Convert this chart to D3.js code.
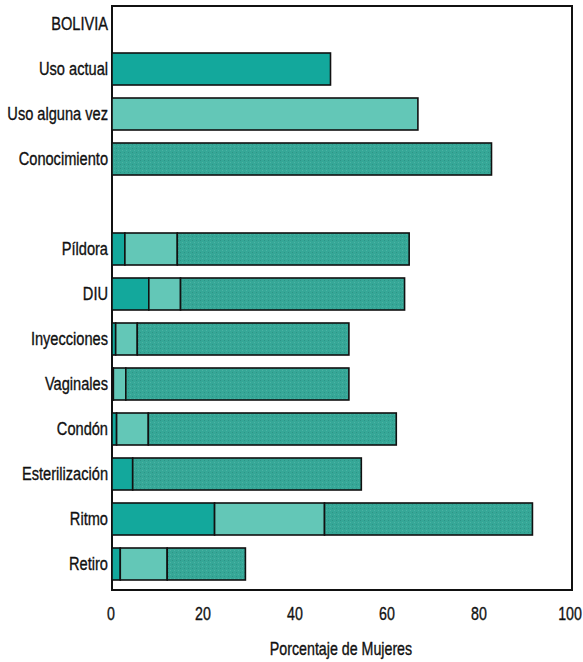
<!DOCTYPE html>
<html><head><meta charset="utf-8">
<script src="https://cdn.jsdelivr.net/npm/d3@7"></script>
<style>
html,body{margin:0;padding:0;background:#fff;}
svg text{font-family:"Liberation Sans",Arial,sans-serif;fill:#111;stroke:#111;stroke-width:0.35;}
</style></head>
<body><svg id="c" width="583" height="662"></svg>
<script>
// Categories (top to bottom); "BOLIVIA" is a heading row, "" is the spacer row
const categories = ["BOLIVIA","Uso actual","Uso alguna vez","Conocimiento","","Píldora","DIU","Inyecciones","Vaginales","Condón","Esterilización","Ritmo","Retiro"];
// Summary bars (single value)
const summaryNames = ["Uso actual","Uso alguna vez","Conocimiento"];
const summaryValues = [47.5, 66.5, 82.5];
const summaryKinds = ["actual","alguna","conoc"];
// Method bars: cumulative percent (uso actual, uso alguna vez, conocimiento)
const methods = ["Píldora","DIU","Inyecciones","Vaginales","Condón","Esterilización","Ritmo","Retiro"];
const usoActual   = [2.8, 8.0, 0.8, 0.3, 1.0, 4.5, 22.3, 1.8];
const usoAlguna   = [14.2, 14.9, 5.5, 3.0, 7.9, 4.5, 46.2, 12.0];
const conocimiento= [64.6, 63.6, 51.5, 51.5, 61.8, 54.2, 91.4, 29.0];
const xTicks = [0,20,40,60,80,100];
const xTitle = "Porcentaje de Mujeres";

const svg = d3.select("#c");
const mLeft = 112, mRight = 572, mTop = 6, mBottom = 590;
const sx = 0.79; // condensed type
const x = d3.scaleLinear().domain([0,100]).range([mLeft,mRight]);
const y = d3.scaleBand().domain(categories).range([-5,593]).paddingInner(0.289).paddingOuter(0.289);

const colors = {actual:"#13a89c", alguna:"#63c7b7", conoc:"url(#stip)"};

const defs = svg.append("defs");
const pat = defs.append("pattern").attr("id","stip").attr("patternUnits","userSpaceOnUse").attr("width",4).attr("height",4);
pat.append("rect").attr("width",4).attr("height",4).attr("fill","#36a797");
pat.append("rect").attr("x",0).attr("y",0).attr("width",1).attr("height",1).attr("fill","#2d9486");
pat.append("rect").attr("x",2).attr("y",2).attr("width",1).attr("height",1).attr("fill","#4cb3a4");

// frame
svg.append("rect").attr("x",mLeft).attr("y",mTop).attr("width",mRight-mLeft).attr("height",mBottom-mTop)
  .attr("fill","none").attr("stroke","#111").attr("stroke-width",2);

// summary bars
const g = svg.append("g");
g.selectAll(".sum").data(summaryNames).join("rect")
  .attr("x",x(0)).attr("y",d=>y(d)).attr("height",y.bandwidth())
  .attr("width",(d,i)=>x(summaryValues[i])-x(0))
  .attr("fill",(d,i)=>colors[summaryKinds[i]])
  .attr("stroke","#111").attr("stroke-width",1.6);

// method bars
const segs = [];
methods.forEach((m,i)=>{
  segs.push({m, x0:0, x1:usoActual[i], k:"actual"});
  segs.push({m, x0:usoActual[i], x1:usoAlguna[i], k:"alguna"});
  segs.push({m, x0:usoAlguna[i], x1:conocimiento[i], k:"conoc"});
});
g.selectAll(".seg").data(segs.filter(s=>s.x1>s.x0)).join("rect")
  .attr("x",d=>x(d.x0)).attr("y",d=>y(d.m)).attr("height",y.bandwidth())
  .attr("width",d=>x(d.x1)-x(d.x0))
  .attr("fill",d=>colors[d.k])
  .attr("stroke","#111").attr("stroke-width",1.6);

// category labels
svg.append("g").selectAll("text").data(categories.filter(c=>c!=="")).join("text")
  .attr("transform",d=>`translate(108,${y(d)+y.bandwidth()/2}) scale(${sx},1)`)
  .attr("dy","0.34em")
  .attr("text-anchor","end").attr("font-size",18.5).text(d=>d);

// x tick labels
svg.append("g").selectAll("text").data(xTicks).join("text")
  .attr("transform",d=>`translate(${Math.min(x(d)-1,570)},620) scale(${sx},1)`)
  .attr("text-anchor","middle").attr("font-size",18).text(d=>d);

svg.append("text").attr("transform",`translate(341,655) scale(${sx},1)`)
  .attr("text-anchor","middle").attr("font-size",18).text(xTitle);
</script></body></html>
